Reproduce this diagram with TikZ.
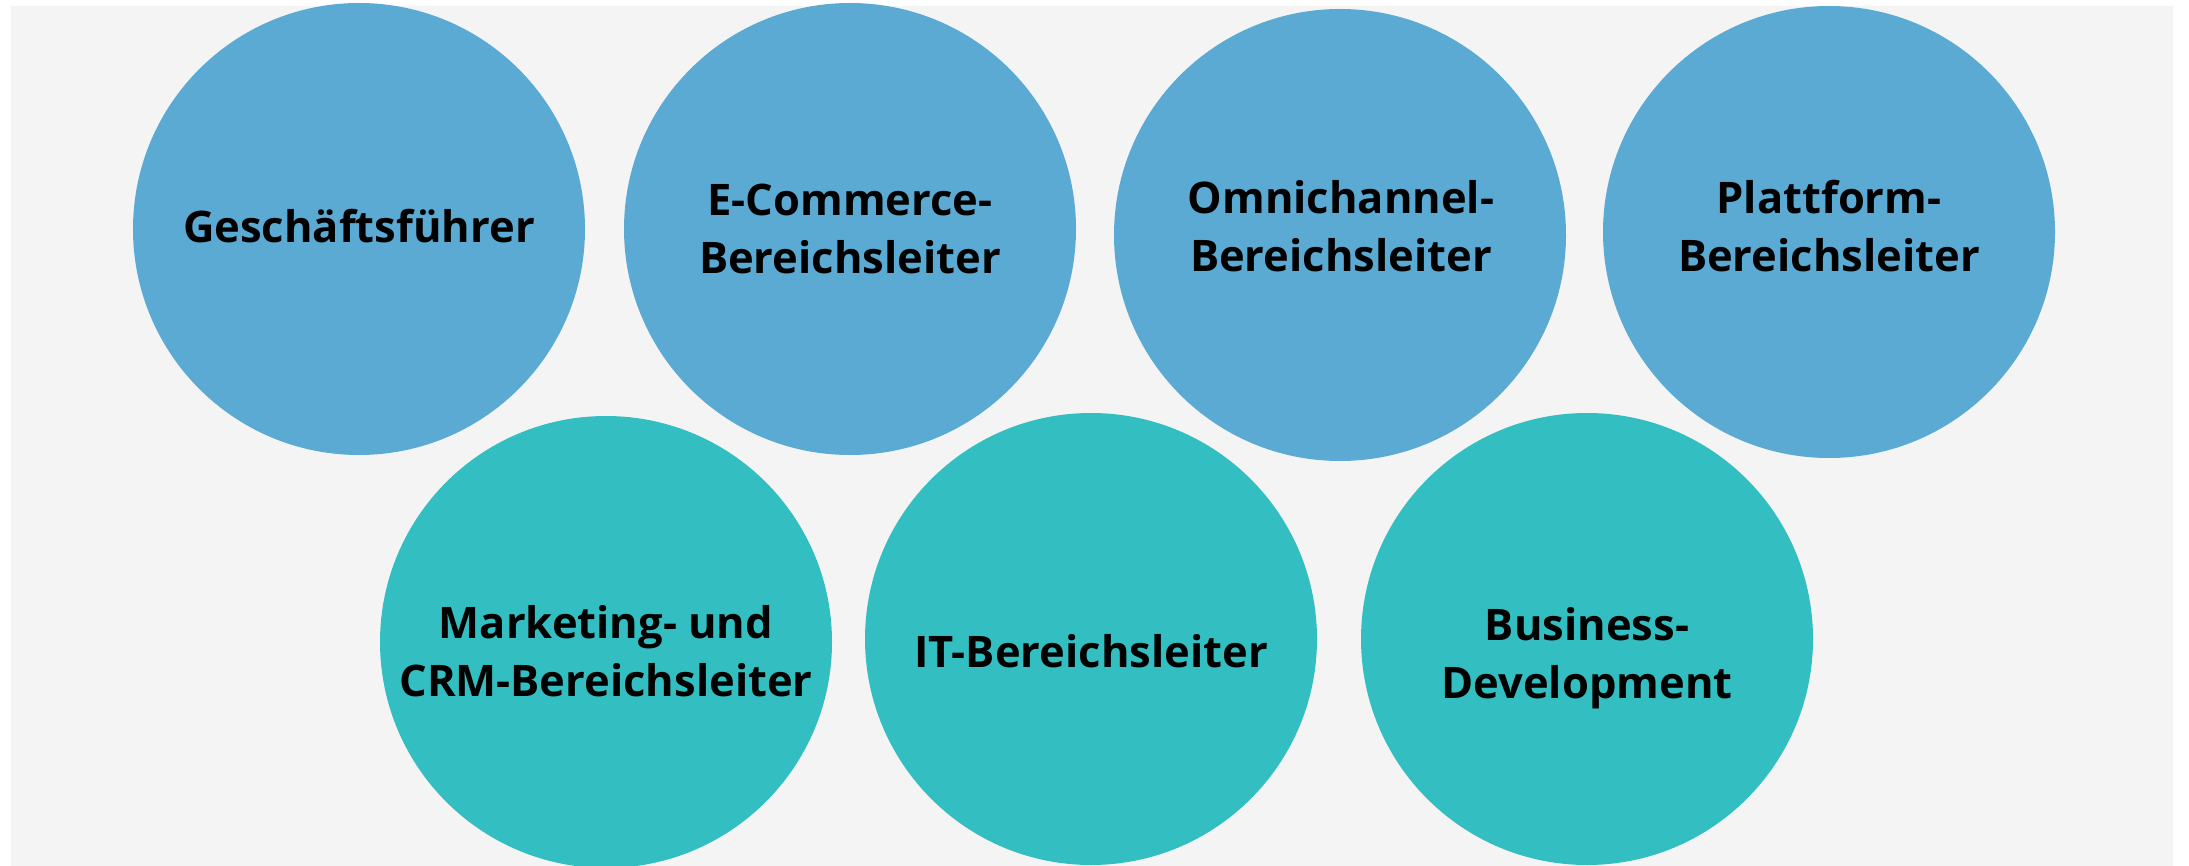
\documentclass[tikz,border=0pt]{standalone}
\usepackage{fontspec}
\setmainfont{Open Sans}
\definecolor{panelgray}{HTML}{F4F4F4}
\definecolor{roleblue}{HTML}{5AAAD3}
\definecolor{roleteal}{HTML}{33BFC1}
\tikzset{
  role/.style={circle, minimum size=452pt, inner sep=0pt, draw=none},
  toprole/.style={role, fill=roleblue},
  lowrole/.style={role, fill=roleteal},
  rolename/.style={align=center, text=black, inner sep=0pt,
    font=\bfseries\fontsize{43.5}{58}\selectfont}
}
\begin{document}
\begin{tikzpicture}[x=1pt, y=-1pt]
  \useasboundingbox (0,0) rectangle (2189,866);
  \clip (0,0) rectangle (2189,866);
  \fill[panelgray] (11,6) rectangle (2173,866);

  % management circles, upper row
  \node[toprole] (c1) at (359,229) {};
  \node[toprole] (c2) at (850,229) {};
  \node[toprole] (c3) at (1340,235) {};
  \node[toprole] (c4) at (1829,232) {};

  % department circles, lower row
  \node[lowrole] (c5) at (606,642) {};
  \node[lowrole] (c6) at (1091,639) {};
  \node[lowrole] (c7) at (1587,639) {};

  \node[rolename] (t1) at (359,226) {Geschäftsführer};
  \node[rolename] (t2) at (850,229) {E-Commerce-\\Bereichsleiter};
  \node[rolename] (t3) at (1341,226) {Omnichannel-\\Bereichsleiter};
  \node[rolename] (t4) at (1829,226) {Plattform-\\Bereichsleiter};
  \node[rolename] (t5) at (606,651) {Marketing- und\\CRM-Bereichsleiter};
  \node[rolename] (t6) at (1091,651) {IT-Bereichsleiter};
  \node[rolename] (t7) at (1587,658) {Business-\\Development};
\end{tikzpicture}
\end{document}
